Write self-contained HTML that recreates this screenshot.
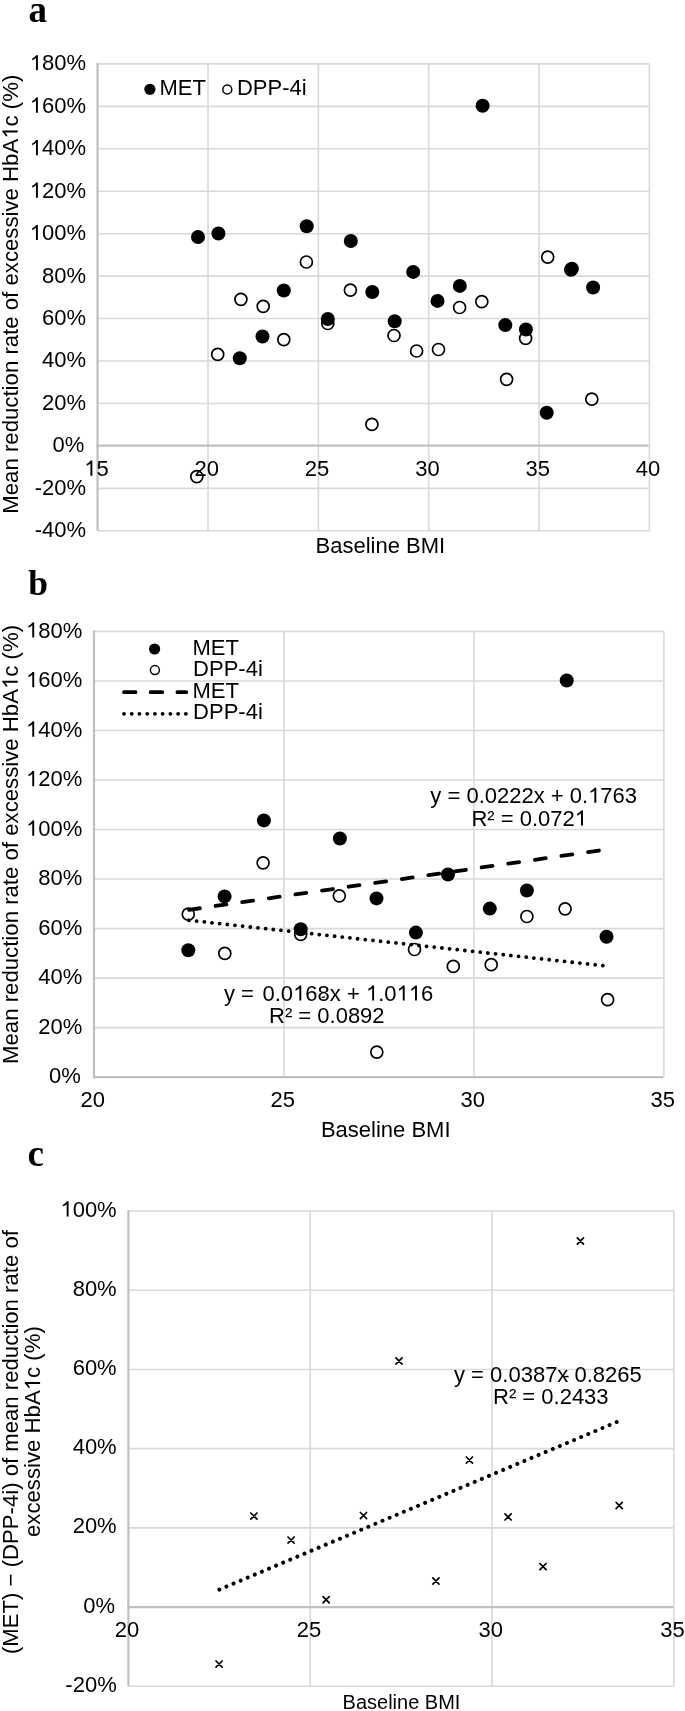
<!DOCTYPE html>
<html><head><meta charset="utf-8"><style>
html,body{margin:0;padding:0;background:#fff;}
svg{display:block;filter:blur(0.4px);}
text{font-family:"Liberation Sans",sans-serif;fill:#000;font-kerning:none;font-feature-settings:"kern" 0;}
.o{fill:transparent;}
</style></head><body>
<svg width="685" height="1711" viewBox="0 0 685 1711">
<rect width="685" height="1711" fill="#fff"/>
<line x1="97.70" y1="63.90" x2="649.40" y2="63.90" stroke="#d9d9d9" stroke-width="1.6"/>
<line x1="97.70" y1="106.34" x2="649.40" y2="106.34" stroke="#d9d9d9" stroke-width="1.6"/>
<line x1="97.70" y1="148.79" x2="649.40" y2="148.79" stroke="#d9d9d9" stroke-width="1.6"/>
<line x1="97.70" y1="191.23" x2="649.40" y2="191.23" stroke="#d9d9d9" stroke-width="1.6"/>
<line x1="97.70" y1="233.68" x2="649.40" y2="233.68" stroke="#d9d9d9" stroke-width="1.6"/>
<line x1="97.70" y1="276.12" x2="649.40" y2="276.12" stroke="#d9d9d9" stroke-width="1.6"/>
<line x1="97.70" y1="318.57" x2="649.40" y2="318.57" stroke="#d9d9d9" stroke-width="1.6"/>
<line x1="97.70" y1="361.01" x2="649.40" y2="361.01" stroke="#d9d9d9" stroke-width="1.6"/>
<line x1="97.70" y1="403.46" x2="649.40" y2="403.46" stroke="#d9d9d9" stroke-width="1.6"/>
<line x1="97.70" y1="488.34" x2="649.40" y2="488.34" stroke="#d9d9d9" stroke-width="1.6"/>
<line x1="97.70" y1="530.79" x2="649.40" y2="530.79" stroke="#d9d9d9" stroke-width="1.6"/>
<line x1="208.04" y1="63.90" x2="208.04" y2="530.79" stroke="#d9d9d9" stroke-width="1.6"/>
<line x1="318.38" y1="63.90" x2="318.38" y2="530.79" stroke="#d9d9d9" stroke-width="1.6"/>
<line x1="428.72" y1="63.90" x2="428.72" y2="530.79" stroke="#d9d9d9" stroke-width="1.6"/>
<line x1="539.06" y1="63.90" x2="539.06" y2="530.79" stroke="#d9d9d9" stroke-width="1.6"/>
<line x1="649.40" y1="63.90" x2="649.40" y2="530.79" stroke="#d9d9d9" stroke-width="1.6"/>
<line x1="97.55" y1="63.10" x2="97.55" y2="530.79" stroke="#bfbfbf" stroke-width="2.2"/>
<line x1="96.60" y1="445.70" x2="648.60" y2="445.70" stroke="#bfbfbf" stroke-width="2.2"/>
<circle cx="196.80" cy="476.60" r="6.0" fill="#fff" stroke="#000" stroke-width="1.7"/>
<circle cx="217.70" cy="354.40" r="6.0" fill="#fff" stroke="#000" stroke-width="1.7"/>
<circle cx="240.90" cy="299.30" r="6.0" fill="#fff" stroke="#000" stroke-width="1.7"/>
<circle cx="263.20" cy="306.30" r="6.0" fill="#fff" stroke="#000" stroke-width="1.7"/>
<circle cx="283.80" cy="339.60" r="6.0" fill="#fff" stroke="#000" stroke-width="1.7"/>
<circle cx="306.40" cy="262.00" r="6.0" fill="#fff" stroke="#000" stroke-width="1.7"/>
<circle cx="327.80" cy="323.50" r="6.0" fill="#fff" stroke="#000" stroke-width="1.7"/>
<circle cx="350.40" cy="290.10" r="6.0" fill="#fff" stroke="#000" stroke-width="1.7"/>
<circle cx="371.90" cy="424.40" r="6.0" fill="#fff" stroke="#000" stroke-width="1.7"/>
<circle cx="394.00" cy="335.50" r="6.0" fill="#fff" stroke="#000" stroke-width="1.7"/>
<circle cx="416.60" cy="351.00" r="6.0" fill="#fff" stroke="#000" stroke-width="1.7"/>
<circle cx="438.50" cy="349.50" r="6.0" fill="#fff" stroke="#000" stroke-width="1.7"/>
<circle cx="459.60" cy="307.50" r="6.0" fill="#fff" stroke="#000" stroke-width="1.7"/>
<circle cx="481.80" cy="301.70" r="6.0" fill="#fff" stroke="#000" stroke-width="1.7"/>
<circle cx="506.60" cy="379.30" r="6.0" fill="#fff" stroke="#000" stroke-width="1.7"/>
<circle cx="525.60" cy="338.30" r="6.0" fill="#fff" stroke="#000" stroke-width="1.7"/>
<circle cx="547.70" cy="257.10" r="6.0" fill="#fff" stroke="#000" stroke-width="1.7"/>
<circle cx="591.80" cy="399.20" r="6.0" fill="#fff" stroke="#000" stroke-width="1.7"/>
<circle cx="198.00" cy="237.00" r="7.0" fill="#000"/>
<circle cx="218.40" cy="233.50" r="7.0" fill="#000"/>
<circle cx="239.80" cy="358.20" r="7.0" fill="#000"/>
<circle cx="262.50" cy="336.50" r="7.0" fill="#000"/>
<circle cx="283.80" cy="290.50" r="7.0" fill="#000"/>
<circle cx="306.70" cy="226.20" r="7.0" fill="#000"/>
<circle cx="327.80" cy="319.00" r="7.0" fill="#000"/>
<circle cx="350.80" cy="241.00" r="7.0" fill="#000"/>
<circle cx="372.30" cy="292.00" r="7.0" fill="#000"/>
<circle cx="394.70" cy="321.30" r="7.0" fill="#000"/>
<circle cx="413.20" cy="271.90" r="7.0" fill="#000"/>
<circle cx="437.50" cy="300.90" r="7.0" fill="#000"/>
<circle cx="459.80" cy="285.90" r="7.0" fill="#000"/>
<circle cx="482.60" cy="105.80" r="7.0" fill="#000"/>
<circle cx="505.30" cy="325.10" r="7.0" fill="#000"/>
<circle cx="525.90" cy="329.50" r="7.0" fill="#000"/>
<circle cx="546.70" cy="412.70" r="7.0" fill="#000"/>
<circle cx="571.90" cy="268.80" r="7.0" fill="#000"/>
<circle cx="593.10" cy="287.50" r="7.0" fill="#000"/>
<circle cx="571.00" cy="269.70" r="7.0" fill="#000"/>
<circle cx="149.90" cy="89.30" r="5.6" fill="#000"/>
<circle cx="227.30" cy="89.40" r="4.5" fill="#fff" stroke="#000" stroke-width="1.5"/>
<text x="28.5" y="21.7" style="font-family:&quot;Liberation Serif&quot;,serif;font-weight:bold" font-size="37">a</text>
<line x1="94.00" y1="631.40" x2="663.90" y2="631.40" stroke="#d9d9d9" stroke-width="1.6"/>
<line x1="94.00" y1="680.93" x2="663.90" y2="680.93" stroke="#d9d9d9" stroke-width="1.6"/>
<line x1="94.00" y1="730.47" x2="663.90" y2="730.47" stroke="#d9d9d9" stroke-width="1.6"/>
<line x1="94.00" y1="780.00" x2="663.90" y2="780.00" stroke="#d9d9d9" stroke-width="1.6"/>
<line x1="94.00" y1="829.53" x2="663.90" y2="829.53" stroke="#d9d9d9" stroke-width="1.6"/>
<line x1="94.00" y1="879.07" x2="663.90" y2="879.07" stroke="#d9d9d9" stroke-width="1.6"/>
<line x1="94.00" y1="928.60" x2="663.90" y2="928.60" stroke="#d9d9d9" stroke-width="1.6"/>
<line x1="94.00" y1="978.13" x2="663.90" y2="978.13" stroke="#d9d9d9" stroke-width="1.6"/>
<line x1="94.00" y1="1027.67" x2="663.90" y2="1027.67" stroke="#d9d9d9" stroke-width="1.6"/>
<line x1="283.97" y1="631.40" x2="283.97" y2="1077.20" stroke="#d9d9d9" stroke-width="1.6"/>
<line x1="473.93" y1="631.40" x2="473.93" y2="1077.20" stroke="#d9d9d9" stroke-width="1.6"/>
<line x1="663.90" y1="631.40" x2="663.90" y2="1077.20" stroke="#d9d9d9" stroke-width="1.6"/>
<line x1="94.00" y1="630.60" x2="94.00" y2="1078.20" stroke="#bfbfbf" stroke-width="2.2"/>
<line x1="92.90" y1="1077.20" x2="663.10" y2="1077.20" stroke="#bfbfbf" stroke-width="2.2"/>
<circle cx="188.30" cy="914.20" r="6.0" fill="#fff" stroke="#000" stroke-width="1.7"/>
<circle cx="224.80" cy="953.40" r="6.0" fill="#fff" stroke="#000" stroke-width="1.7"/>
<circle cx="263.10" cy="862.80" r="6.0" fill="#fff" stroke="#000" stroke-width="1.7"/>
<circle cx="300.70" cy="934.30" r="6.0" fill="#fff" stroke="#000" stroke-width="1.7"/>
<circle cx="339.30" cy="895.80" r="6.0" fill="#fff" stroke="#000" stroke-width="1.7"/>
<circle cx="376.80" cy="1052.10" r="6.0" fill="#fff" stroke="#000" stroke-width="1.7"/>
<circle cx="414.50" cy="949.50" r="6.0" fill="#fff" stroke="#000" stroke-width="1.7"/>
<circle cx="453.30" cy="966.40" r="6.0" fill="#fff" stroke="#000" stroke-width="1.7"/>
<circle cx="491.20" cy="964.70" r="6.0" fill="#fff" stroke="#000" stroke-width="1.7"/>
<circle cx="526.90" cy="916.50" r="6.0" fill="#fff" stroke="#000" stroke-width="1.7"/>
<circle cx="565.10" cy="908.80" r="6.0" fill="#fff" stroke="#000" stroke-width="1.7"/>
<circle cx="607.60" cy="999.70" r="6.0" fill="#fff" stroke="#000" stroke-width="1.7"/>
<circle cx="188.30" cy="950.20" r="7.0" fill="#000"/>
<circle cx="224.60" cy="896.40" r="7.0" fill="#000"/>
<circle cx="263.90" cy="820.40" r="7.0" fill="#000"/>
<circle cx="300.70" cy="929.30" r="7.0" fill="#000"/>
<circle cx="339.90" cy="838.50" r="7.0" fill="#000"/>
<circle cx="376.50" cy="898.40" r="7.0" fill="#000"/>
<circle cx="415.90" cy="932.60" r="7.0" fill="#000"/>
<circle cx="448.00" cy="874.50" r="7.0" fill="#000"/>
<circle cx="489.80" cy="908.60" r="7.0" fill="#000"/>
<circle cx="526.90" cy="890.50" r="7.0" fill="#000"/>
<circle cx="566.70" cy="680.50" r="7.0" fill="#000"/>
<circle cx="606.50" cy="936.70" r="7.0" fill="#000"/>
<line x1="188.98" y1="909.83" x2="606.91" y2="849.35" stroke="#000" stroke-width="3.8" stroke-linecap="round" stroke-dasharray="11 15.88"/>
<line x1="188.98" y1="920.28" x2="606.91" y2="966.05" stroke="#000" stroke-width="3.8" stroke-linecap="round" stroke-dasharray="0.01 7.7"/>
<circle cx="154.60" cy="649.00" r="5.6" fill="#000"/>
<circle cx="154.90" cy="670.10" r="4.5" fill="#fff" stroke="#000" stroke-width="1.5"/>
<line x1="124" y1="692.2" x2="186.2" y2="692.2" stroke="#000" stroke-width="3.8" stroke-linecap="round" stroke-dasharray="11.5 15.2"/>
<line x1="124" y1="713.8" x2="186" y2="713.8" stroke="#000" stroke-width="3.8" stroke-linecap="round" stroke-dasharray="0.01 7.72"/>
<line x1="321.8" y1="997.4" x2="325.0" y2="997.0" stroke="#222" stroke-width="1.3"/>
<text x="28.3" y="595.4" style="font-family:&quot;Liberation Serif&quot;,serif;font-weight:bold" font-size="35.5">b</text>
<line x1="128.40" y1="1211.00" x2="673.80" y2="1211.00" stroke="#d9d9d9" stroke-width="1.6"/>
<line x1="128.40" y1="1290.22" x2="673.80" y2="1290.22" stroke="#d9d9d9" stroke-width="1.6"/>
<line x1="128.40" y1="1369.43" x2="673.80" y2="1369.43" stroke="#d9d9d9" stroke-width="1.6"/>
<line x1="128.40" y1="1448.65" x2="673.80" y2="1448.65" stroke="#d9d9d9" stroke-width="1.6"/>
<line x1="128.40" y1="1527.87" x2="673.80" y2="1527.87" stroke="#d9d9d9" stroke-width="1.6"/>
<line x1="128.40" y1="1686.30" x2="673.80" y2="1686.30" stroke="#d9d9d9" stroke-width="1.6"/>
<line x1="310.20" y1="1211.00" x2="310.20" y2="1686.30" stroke="#d9d9d9" stroke-width="1.6"/>
<line x1="492.00" y1="1211.00" x2="492.00" y2="1686.30" stroke="#d9d9d9" stroke-width="1.6"/>
<line x1="673.80" y1="1211.00" x2="673.80" y2="1686.30" stroke="#d9d9d9" stroke-width="1.6"/>
<line x1="128.40" y1="1210.20" x2="128.40" y2="1686.30" stroke="#bfbfbf" stroke-width="2.2"/>
<line x1="127.30" y1="1607.08" x2="673.00" y2="1607.08" stroke="#bfbfbf" stroke-width="2.2"/>
<path d="M216.00 1661.00L222.20 1667.20M216.00 1667.20L222.20 1661.00" stroke="#000" stroke-width="1.7" stroke-linecap="round" fill="none"/>
<path d="M250.80 1513.00L257.00 1519.20M250.80 1519.20L257.00 1513.00" stroke="#000" stroke-width="1.7" stroke-linecap="round" fill="none"/>
<path d="M288.00 1537.00L294.20 1543.20M288.00 1543.20L294.20 1537.00" stroke="#000" stroke-width="1.7" stroke-linecap="round" fill="none"/>
<path d="M323.00 1596.60L329.20 1602.80M323.00 1602.80L329.20 1596.60" stroke="#000" stroke-width="1.7" stroke-linecap="round" fill="none"/>
<path d="M360.40 1512.50L366.60 1518.70M360.40 1518.70L366.60 1512.50" stroke="#000" stroke-width="1.7" stroke-linecap="round" fill="none"/>
<path d="M395.90 1357.90L402.10 1364.10M395.90 1364.10L402.10 1357.90" stroke="#000" stroke-width="1.7" stroke-linecap="round" fill="none"/>
<path d="M432.80 1577.90L439.00 1584.10M432.80 1584.10L439.00 1577.90" stroke="#000" stroke-width="1.7" stroke-linecap="round" fill="none"/>
<path d="M466.30 1457.00L472.50 1463.20M466.30 1463.20L472.50 1457.00" stroke="#000" stroke-width="1.7" stroke-linecap="round" fill="none"/>
<path d="M505.00 1513.80L511.20 1520.00M505.00 1520.00L511.20 1513.80" stroke="#000" stroke-width="1.7" stroke-linecap="round" fill="none"/>
<path d="M539.90 1563.50L546.10 1569.70M539.90 1569.70L546.10 1563.50" stroke="#000" stroke-width="1.7" stroke-linecap="round" fill="none"/>
<path d="M577.30 1237.90L583.50 1244.10M577.30 1244.10L583.50 1237.90" stroke="#000" stroke-width="1.7" stroke-linecap="round" fill="none"/>
<path d="M616.10 1502.40L622.30 1508.60M616.10 1508.60L622.30 1502.40" stroke="#000" stroke-width="1.7" stroke-linecap="round" fill="none"/>
<line x1="219.30" y1="1589.56" x2="619.26" y2="1420.94" stroke="#000" stroke-width="4.0" stroke-linecap="round" stroke-dasharray="0.01 7.69"/>
<line x1="563.9" y1="1376.6" x2="568.6" y2="1376.6" stroke="#000" stroke-width="1.5"/>
<text x="27.5" y="1166" style="font-family:&quot;Liberation Serif&quot;,serif;font-weight:bold" font-size="37">c</text>
<g transform="translate(86.00 70.30) scale(1 1.0)"><text x="0" y="0" font-size="22" text-anchor="end" ><tspan class="o">1</tspan>80%</text><path d="M763 0L583 0L583 1147Q480 1050 326 971L230 927L230 1101Q330 1150 420 1215Q540 1305 600 1409L763 1409Z" transform="translate(-56.297 0.000) scale(0.010742 -0.010742)"/></g>
<g transform="translate(86.00 112.74) scale(1 1.0)"><text x="0" y="0" font-size="22" text-anchor="end" ><tspan class="o">1</tspan>60%</text><path d="M763 0L583 0L583 1147Q480 1050 326 971L230 927L230 1101Q330 1150 420 1215Q540 1305 600 1409L763 1409Z" transform="translate(-56.297 0.000) scale(0.010742 -0.010742)"/></g>
<g transform="translate(86.00 155.19) scale(1 1.0)"><text x="0" y="0" font-size="22" text-anchor="end" ><tspan class="o">1</tspan>40%</text><path d="M763 0L583 0L583 1147Q480 1050 326 971L230 927L230 1101Q330 1150 420 1215Q540 1305 600 1409L763 1409Z" transform="translate(-56.297 0.000) scale(0.010742 -0.010742)"/></g>
<g transform="translate(86.00 197.63) scale(1 1.0)"><text x="0" y="0" font-size="22" text-anchor="end" ><tspan class="o">1</tspan>20%</text><path d="M763 0L583 0L583 1147Q480 1050 326 971L230 927L230 1101Q330 1150 420 1215Q540 1305 600 1409L763 1409Z" transform="translate(-56.297 0.000) scale(0.010742 -0.010742)"/></g>
<g transform="translate(86.00 240.08) scale(1 1.0)"><text x="0" y="0" font-size="22" text-anchor="end" ><tspan class="o">1</tspan>00%</text><path d="M763 0L583 0L583 1147Q480 1050 326 971L230 927L230 1101Q330 1150 420 1215Q540 1305 600 1409L763 1409Z" transform="translate(-56.297 0.000) scale(0.010742 -0.010742)"/></g>
<g transform="translate(86.00 282.52) scale(1 1.0)"><text x="0" y="0" font-size="22" text-anchor="end" >80%</text></g>
<g transform="translate(86.00 324.97) scale(1 1.0)"><text x="0" y="0" font-size="22" text-anchor="end" >60%</text></g>
<g transform="translate(86.00 367.41) scale(1 1.0)"><text x="0" y="0" font-size="22" text-anchor="end" >40%</text></g>
<g transform="translate(86.00 409.86) scale(1 1.0)"><text x="0" y="0" font-size="22" text-anchor="end" >20%</text></g>
<g transform="translate(84.20 452.30) scale(1 1.0)"><text x="0" y="0" font-size="22" text-anchor="end" >0%</text></g>
<g transform="translate(86.00 494.74) scale(1 1.0)"><text x="0" y="0" font-size="22" text-anchor="end" >-20%</text></g>
<g transform="translate(86.00 537.19) scale(1 1.0)"><text x="0" y="0" font-size="22" text-anchor="end" >-40%</text></g>
<g transform="translate(96.40 475.70) scale(1 1.0)"><text x="0" y="0" font-size="22" text-anchor="middle" ><tspan class="o">1</tspan>5</text><path d="M763 0L583 0L583 1147Q480 1050 326 971L230 927L230 1101Q330 1150 420 1215Q540 1305 600 1409L763 1409Z" transform="translate(-12.250 0.000) scale(0.010742 -0.010742)"/></g>
<g transform="translate(206.74 475.70) scale(1 1.0)"><text x="0" y="0" font-size="22" text-anchor="middle" >20</text></g>
<g transform="translate(317.08 475.70) scale(1 1.0)"><text x="0" y="0" font-size="22" text-anchor="middle" >25</text></g>
<g transform="translate(427.42 475.70) scale(1 1.0)"><text x="0" y="0" font-size="22" text-anchor="middle" >30</text></g>
<g transform="translate(537.76 475.70) scale(1 1.0)"><text x="0" y="0" font-size="22" text-anchor="middle" >35</text></g>
<g transform="translate(648.10 475.70) scale(1 1.0)"><text x="0" y="0" font-size="22" text-anchor="middle" >40</text></g>
<g transform="translate(159.40 95.20) scale(1 1.0)"><text x="0" y="0" font-size="22" text-anchor="start" >MET</text></g>
<g transform="translate(236.90 95.20) scale(1 1.0)"><text x="0" y="0" font-size="22" text-anchor="start" >DPP-4i</text></g>
<g transform="translate(380.40 553.40) scale(1 1.0)"><text x="0" y="0" font-size="22" text-anchor="middle" >Baseline BMI</text></g>
<g transform="translate(17.70 294.20) rotate(-90) scale(1 1.0)"><text x="0" y="0" font-size="22.2" text-anchor="middle">Mean reduction rate of excessive HbA<tspan class="o">1</tspan>c (%)</text><path d="M763 0L583 0L583 1147Q480 1050 326 971L230 927L230 1101Q330 1150 420 1215Q540 1305 600 1409L763 1409Z" transform="translate(155.406 0.000) scale(0.010840 -0.010840)"/></g>
<g transform="translate(82.30 637.60) scale(1 1.0)"><text x="0" y="0" font-size="22" text-anchor="end" ><tspan class="o">1</tspan>80%</text><path d="M763 0L583 0L583 1147Q480 1050 326 971L230 927L230 1101Q330 1150 420 1215Q540 1305 600 1409L763 1409Z" transform="translate(-56.297 0.000) scale(0.010742 -0.010742)"/></g>
<g transform="translate(82.30 687.13) scale(1 1.0)"><text x="0" y="0" font-size="22" text-anchor="end" ><tspan class="o">1</tspan>60%</text><path d="M763 0L583 0L583 1147Q480 1050 326 971L230 927L230 1101Q330 1150 420 1215Q540 1305 600 1409L763 1409Z" transform="translate(-56.297 0.000) scale(0.010742 -0.010742)"/></g>
<g transform="translate(82.30 736.67) scale(1 1.0)"><text x="0" y="0" font-size="22" text-anchor="end" ><tspan class="o">1</tspan>40%</text><path d="M763 0L583 0L583 1147Q480 1050 326 971L230 927L230 1101Q330 1150 420 1215Q540 1305 600 1409L763 1409Z" transform="translate(-56.297 0.000) scale(0.010742 -0.010742)"/></g>
<g transform="translate(82.30 786.20) scale(1 1.0)"><text x="0" y="0" font-size="22" text-anchor="end" ><tspan class="o">1</tspan>20%</text><path d="M763 0L583 0L583 1147Q480 1050 326 971L230 927L230 1101Q330 1150 420 1215Q540 1305 600 1409L763 1409Z" transform="translate(-56.297 0.000) scale(0.010742 -0.010742)"/></g>
<g transform="translate(82.30 835.73) scale(1 1.0)"><text x="0" y="0" font-size="22" text-anchor="end" ><tspan class="o">1</tspan>00%</text><path d="M763 0L583 0L583 1147Q480 1050 326 971L230 927L230 1101Q330 1150 420 1215Q540 1305 600 1409L763 1409Z" transform="translate(-56.297 0.000) scale(0.010742 -0.010742)"/></g>
<g transform="translate(82.30 885.27) scale(1 1.0)"><text x="0" y="0" font-size="22" text-anchor="end" >80%</text></g>
<g transform="translate(82.30 934.80) scale(1 1.0)"><text x="0" y="0" font-size="22" text-anchor="end" >60%</text></g>
<g transform="translate(82.30 984.33) scale(1 1.0)"><text x="0" y="0" font-size="22" text-anchor="end" >40%</text></g>
<g transform="translate(82.30 1033.87) scale(1 1.0)"><text x="0" y="0" font-size="22" text-anchor="end" >20%</text></g>
<g transform="translate(80.70 1083.40) scale(1 1.0)"><text x="0" y="0" font-size="22" text-anchor="end" >0%</text></g>
<g transform="translate(92.80 1107.20) scale(1 1.0)"><text x="0" y="0" font-size="22" text-anchor="middle" >20</text></g>
<g transform="translate(282.77 1107.20) scale(1 1.0)"><text x="0" y="0" font-size="22" text-anchor="middle" >25</text></g>
<g transform="translate(472.73 1107.20) scale(1 1.0)"><text x="0" y="0" font-size="22" text-anchor="middle" >30</text></g>
<g transform="translate(662.70 1107.20) scale(1 1.0)"><text x="0" y="0" font-size="22" text-anchor="middle" >35</text></g>
<g transform="translate(192.50 654.60) scale(1 1.0)"><text x="0" y="0" font-size="22" text-anchor="start" >MET</text></g>
<g transform="translate(193.10 676.40) scale(1 1.0)"><text x="0" y="0" font-size="22" text-anchor="start" >DPP-4i</text></g>
<g transform="translate(192.50 697.60) scale(1 1.0)"><text x="0" y="0" font-size="22" text-anchor="start" >MET</text></g>
<g transform="translate(193.10 719.40) scale(1 1.0)"><text x="0" y="0" font-size="22" text-anchor="start" >DPP-4i</text></g>
<g transform="translate(533.70 802.80) scale(1 1.0)"><text x="0" y="0" font-size="22" text-anchor="middle" >y = 0.0222x + 0.<tspan class="o">1</tspan>763</text><path d="M763 0L583 0L583 1147Q480 1050 326 971L230 927L230 1101Q330 1150 420 1215Q540 1305 600 1409L763 1409Z" transform="translate(54.406 0.000) scale(0.010742 -0.010742)"/></g>
<g transform="translate(529.20 825.60) scale(1 1.0)"><text x="0" y="0" font-size="22" text-anchor="middle" >R² = 0.072<tspan class="o">1</tspan></text><path d="M763 0L583 0L583 1147Q480 1050 326 971L230 927L230 1101Q330 1150 420 1215Q540 1305 600 1409L763 1409Z" transform="translate(45.547 0.000) scale(0.010742 -0.010742)"/></g>
<g transform="translate(224.00 1000.60) scale(1 1.0)"><text x="0" y="0" font-size="22" text-anchor="start" >y =</text></g>
<g transform="translate(262.50 1000.60) scale(1 1.0)"><text x="0" y="0" font-size="22" text-anchor="start" >0.0<tspan class="o">1</tspan>68x + <tspan class="o">1</tspan>.0<tspan class="o">1</tspan><tspan class="o">1</tspan>6</text><path d="M763 0L583 0L583 1147Q480 1050 326 971L230 927L230 1101Q330 1150 420 1215Q540 1305 600 1409L763 1409Z" transform="translate(30.594 0.000) scale(0.010742 -0.010742)"/><path d="M763 0L583 0L583 1147Q480 1050 326 971L230 927L230 1101Q330 1150 420 1215Q540 1305 600 1409L763 1409Z" transform="translate(103.391 0.000) scale(0.010742 -0.010742)"/><path d="M763 0L583 0L583 1147Q480 1050 326 971L230 927L230 1101Q330 1150 420 1215Q540 1305 600 1409L763 1409Z" transform="translate(134.000 0.000) scale(0.010742 -0.010742)"/><path d="M763 0L583 0L583 1147Q480 1050 326 971L230 927L230 1101Q330 1150 420 1215Q540 1305 600 1409L763 1409Z" transform="translate(146.250 0.000) scale(0.010742 -0.010742)"/></g>
<g transform="translate(326.80 1022.80) scale(1 1.0)"><text x="0" y="0" font-size="22" text-anchor="middle" >R² = 0.0892</text></g>
<g transform="translate(385.75 1137.10) scale(1 1.0)"><text x="0" y="0" font-size="22" text-anchor="middle" >Baseline BMI</text></g>
<g transform="translate(17.70 844.45) rotate(-90) scale(1 1.0)"><text x="0" y="0" font-size="22.2" text-anchor="middle">Mean reduction rate of excessive HbA<tspan class="o">1</tspan>c (%)</text><path d="M763 0L583 0L583 1147Q480 1050 326 971L230 927L230 1101Q330 1150 420 1215Q540 1305 600 1409L763 1409Z" transform="translate(155.406 0.000) scale(0.010840 -0.010840)"/></g>
<g transform="translate(116.70 1216.50) scale(1 1.0)"><text x="0" y="0" font-size="22" text-anchor="end" ><tspan class="o">1</tspan>00%</text><path d="M763 0L583 0L583 1147Q480 1050 326 971L230 927L230 1101Q330 1150 420 1215Q540 1305 600 1409L763 1409Z" transform="translate(-56.297 0.000) scale(0.010742 -0.010742)"/></g>
<g transform="translate(116.70 1295.72) scale(1 1.0)"><text x="0" y="0" font-size="22" text-anchor="end" >80%</text></g>
<g transform="translate(116.70 1374.93) scale(1 1.0)"><text x="0" y="0" font-size="22" text-anchor="end" >60%</text></g>
<g transform="translate(116.70 1454.15) scale(1 1.0)"><text x="0" y="0" font-size="22" text-anchor="end" >40%</text></g>
<g transform="translate(116.70 1533.37) scale(1 1.0)"><text x="0" y="0" font-size="22" text-anchor="end" >20%</text></g>
<g transform="translate(115.00 1612.58) scale(1 1.0)"><text x="0" y="0" font-size="22" text-anchor="end" >0%</text></g>
<g transform="translate(116.70 1691.80) scale(1 1.0)"><text x="0" y="0" font-size="22" text-anchor="end" >-20%</text></g>
<g transform="translate(127.10 1636.98) scale(1 1.0)"><text x="0" y="0" font-size="22" text-anchor="middle" >20</text></g>
<g transform="translate(308.90 1636.98) scale(1 1.0)"><text x="0" y="0" font-size="22" text-anchor="middle" >25</text></g>
<g transform="translate(490.70 1636.98) scale(1 1.0)"><text x="0" y="0" font-size="22" text-anchor="middle" >30</text></g>
<g transform="translate(672.50 1636.98) scale(1 1.0)"><text x="0" y="0" font-size="22" text-anchor="middle" >35</text></g>
<g transform="translate(454.00 1382.00) scale(1 1.0)"><text x="0" y="0" font-size="22" text-anchor="start" >y = 0.0387x</text></g>
<g transform="translate(574.50 1382.00) scale(1 1.0)"><text x="0" y="0" font-size="22" text-anchor="start" >0.8265</text></g>
<g transform="translate(550.80 1404.20) scale(1 1.0)"><text x="0" y="0" font-size="22" text-anchor="middle" >R² = 0.2433</text></g>
<g transform="translate(401.50 1708.90) scale(1 1.0)"><text x="0" y="0" font-size="20" text-anchor="middle" >Baseline BMI</text></g>
<g transform="translate(17.60 1442.10) rotate(-90) scale(1 1.0)"><text x="0" y="0" font-size="22.15" text-anchor="middle">(MET) − (DPP-4i) of mean reduction rate of</text></g>
<g transform="translate(40.10 1431.60) rotate(-90) scale(1 1.0)"><text x="0" y="0" font-size="22.2" text-anchor="middle">excessive HbA<tspan class="o">1</tspan>c (%)</text><path d="M763 0L583 0L583 1147Q480 1050 326 971L230 927L230 1101Q330 1150 420 1215Q540 1305 600 1409L763 1409Z" transform="translate(41.320 0.000) scale(0.010840 -0.010840)"/></g>
</svg>
</body></html>
